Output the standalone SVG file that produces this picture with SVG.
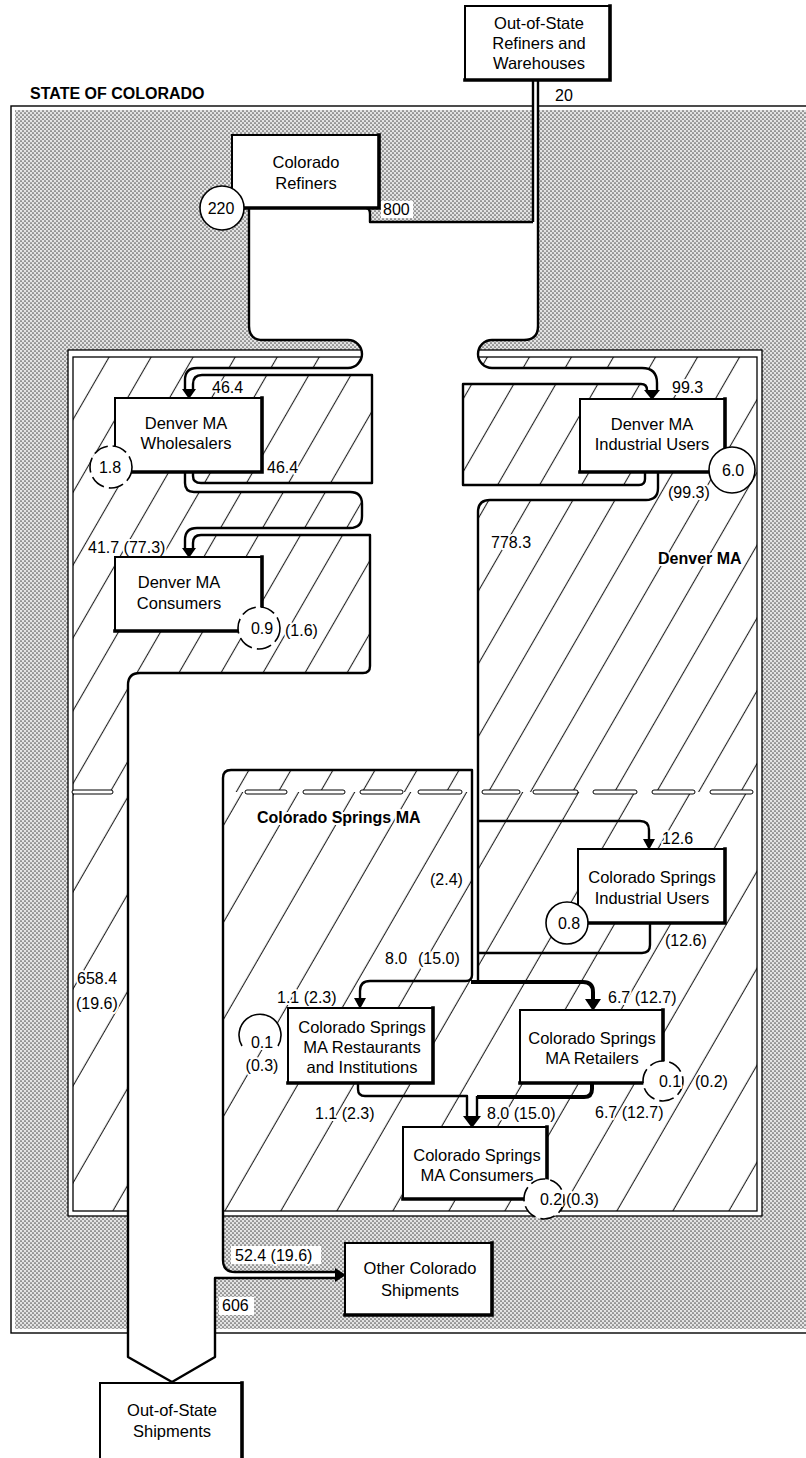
<svg xmlns="http://www.w3.org/2000/svg" width="806" height="1458" viewBox="0 0 806 1458">
<defs>
<pattern id="dots" width="4" height="4" patternUnits="userSpaceOnUse"><rect width="4" height="4" fill="#e4e4e4"/><circle cx="1" cy="1" r="0.85" fill="#555"/><circle cx="3" cy="3" r="0.85" fill="#555"/></pattern>
<pattern id="hatchD" width="36.4" height="20" patternUnits="userSpaceOnUse" patternTransform="rotate(30)"><rect width="36.4" height="20" fill="#fff"/><line x1="18.2" y1="-1" x2="18.2" y2="21" stroke="#222" stroke-width="1.1"/></pattern>
<pattern id="hatchC" width="48.5" height="20" patternUnits="userSpaceOnUse" patternTransform="rotate(30)"><rect width="48.5" height="20" fill="#fff"/><line x1="24.2" y1="-1" x2="24.2" y2="21" stroke="#222" stroke-width="1.1"/></pattern>
<style>
.rv{fill:none;stroke:#000;stroke-width:2.4;stroke-linejoin:round}
.thk{fill:none;stroke:#000;stroke-width:4;stroke-linejoin:round}
.box{fill:#fff;stroke:#000;stroke-width:2}
.sh{fill:none;stroke:#000;stroke-width:3.6;stroke-linecap:square}
.t{font-family:'Liberation Sans',Arial,Helvetica,sans-serif;font-size:16.5px;fill:#000;text-anchor:middle}
.n{font-family:'Liberation Sans',Arial,Helvetica,sans-serif;font-size:16px;fill:#000;paint-order:stroke;stroke:#fff;stroke-width:4px;stroke-linejoin:round}
.b{font-weight:bold}
.loss{fill:#fff;stroke:#000;stroke-width:1.6}
.dsh{stroke-dasharray:15 5}
.dash{fill:#fff;stroke:#000;stroke-width:1}
.ah{fill:#000}
</style>
</defs>
<rect width="806" height="1458" fill="#fff"/>

<g id="state-of-colorado">
<rect x="11" y="106" width="810" height="1227" fill="#fff" stroke="#000" stroke-width="1.4"/>
<rect x="15" y="110" width="800" height="1219" fill="url(#dots)"/>
<text class="n b" x="30" y="99" font-size="16.5">STATE OF COLORADO</text>
</g>

<g id="metro-areas">
<rect x="68" y="350" width="694" height="866" fill="#fff" stroke="#000" stroke-width="1.3"/>
<rect x="73" y="357" width="684" height="435" fill="url(#hatchD)"/>
<rect x="73" y="792" width="684" height="419" fill="url(#hatchC)"/>
<rect x="73" y="357" width="684" height="854" fill="none" stroke="#000" stroke-width="1.3"/>
<g id="ma-divider">
<rect class="dash" x="72" y="790" width="41" height="4" rx="2"/>
<rect class="dash" x="245" y="790" width="42" height="4" rx="2"/>
<rect class="dash" x="303" y="790" width="42" height="4" rx="2"/>
<rect class="dash" x="360" y="790" width="43" height="4" rx="2"/>
<rect class="dash" x="418" y="790" width="44" height="4" rx="2"/>
<rect class="dash" x="482" y="790" width="38" height="4" rx="2"/>
<rect class="dash" x="533" y="790" width="45" height="4" rx="2"/>
<rect class="dash" x="593" y="790" width="44" height="4" rx="2"/>
<rect class="dash" x="652" y="790" width="43" height="4" rx="2"/>
<rect class="dash" x="710" y="790" width="43" height="4" rx="2"/>
</g>
</g>

<g id="flow-fill" fill="#fff">
<path d="M 249 208 L 366 208 Q 370 208 370 214 L 370 222 L 533 222 L 533 80 L 538 80 L 538 326 Q 538 340 524 340 L 492 340 A 14 14 0 0 0 492 368 L 642 368 Q 657 368 657 383 L 657 392 L 647 392 L 647 390 Q 647 384 641 384 L 463 384 L 463 485 L 639 485 Q 645 485 645 479 L 645 472 L 658 472 L 658 488 Q 658 500 646 500 L 490 500 Q 478 500 478 512 L 478 770 L 231 770 Q 223 770 223 778 L 223 1260 Q 223 1272 235 1272 L 337 1272 L 337 1278 L 215 1278 L 215 1357 L 172 1382 L 128 1357 L 128 685 Q 128 673 140 673 L 363 673 Q 370 673 370 666 L 370 535 L 201 535 Q 193 535 193 543 L 193 550 L 185 550 L 185 540 Q 185 528 197 528 L 350 528 Q 362 528 362 516 L 362 504 Q 362 492 350 492 L 194 492 Q 185 492 185 483 L 185 472 L 193 472 L 193 476 Q 193 483 201 483 L 372 483 L 372 375 L 202 375 Q 193 375 193 384 L 193 392 L 185 392 L 185 380 Q 185 368 197 368 L 348 368 A 14 14 0 0 0 348 340 L 263 340 Q 249 340 249 326 Z"/>
<rect x="472" y="768" width="6" height="214"/>
<rect x="467" y="1096" width="10" height="22"/>
</g>

<g id="connectors">
<path class="rv" d="M 533 80 L 533 222"/>
<path class="rv" d="M 366 208 Q 370 208 370 214 L 370 222 L 533 222"/>
<path class="rv" d="M 249 209 L 249 326 Q 249 340 263 340 L 348 340 A 14 14 0 0 1 348 368 L 197 368 Q 185 368 185 380 L 185 391"/>
<path class="rv" d="M 193 391 L 193 384 Q 193 375 202 375 L 372 375 L 372 483 L 201 483 Q 193 483 193 476 L 193 472"/>
<path class="rv" d="M 185 472 L 185 483 Q 185 492 194 492 L 350 492 Q 362 492 362 504 L 362 516 Q 362 528 350 528 L 197 528 Q 185 528 185 540 L 185 549"/>
<path class="rv" d="M 193 549 L 193 543 Q 193 535 201 535 L 370 535 L 370 666 Q 370 673 363 673 L 140 673 Q 128 673 128 685 L 128 1357 L 172 1382"/>
<path class="rv" d="M 538 80 L 538 326 Q 538 340 524 340 L 492 340 A 14 14 0 0 0 492 368 L 642 368 Q 657 368 657 383 L 657 391"/>
<path class="rv" d="M 647 391 L 647 390 Q 647 384 641 384 L 463 384 L 463 485 L 639 485 Q 645 485 645 479 L 645 472"/>
<path class="rv" d="M 658 472 L 658 488 Q 658 500 646 500 L 490 500 Q 478 500 478 512 L 478 980"/>
<path class="rv" d="M 337 1272 L 235 1272 Q 223 1272 223 1260 L 223 778 Q 223 770 231 770 L 472 770 L 472 975 Q 472 981 466 981 L 370 981 Q 360 981 360 991 L 360 999"/>
<path class="rv" d="M 337 1278 L 215 1278 L 215 1357 L 172 1382"/>
<path class="rv" d="M 478 821 L 640 821 Q 649 821 649 830 L 649 840"/>
<path class="rv" d="M 650 923 L 650 945 Q 650 953 642 953 L 478 953"/>
<path class="thk" d="M 471 982 L 583 982 Q 593 982 593 992 L 593 1000"/>
<path class="rv" d="M 358 1083 L 358 1089 Q 358 1096 365 1096 L 467 1096 L 467 1117"/>
<path class="thk" d="M 592 1083 L 592 1089 Q 592 1097 584 1097 L 477 1097"/>
<path class="rv" d="M 477 1096 L 477 1117"/>
<polygon class="ah" points="182,389 196,389 189,399"/>
<polygon class="ah" points="182,548 196,548 189,558"/>
<polygon class="ah" points="644,390 660,390 652,400"/>
<polygon class="ah" points="643,839 655,839 649,850"/>
<polygon class="ah" points="354,998 366,998 360,1009"/>
<polygon class="ah" points="585,999 601,999 593,1011"/>
<polygon class="ah" points="463,1116 481,1116 472,1128"/>
<polygon class="ah" points="335,1268 335,1282 346,1275"/>
</g>

<g id="flow-labels">
<text class="n" x="555" y="101">20</text>
<rect x="381" y="201" width="32" height="17" fill="#fff"/>
<text class="n" x="383" y="215">800</text>
<text class="n" x="212" y="393">46.4</text>
<text class="n" x="267" y="473">46.4</text>
<text class="n" x="672" y="393">99.3</text>
<text class="n" x="668" y="498">(99.3)</text>
<text class="n" x="491" y="548">778.3</text>
<text class="n b" x="658" y="564">Denver MA</text>
<text class="n" x="88" y="553">41.7 (77.3)</text>
<text class="n" x="285" y="636">(1.6)</text>
<text class="n b" x="257" y="823" font-size="15">Colorado Springs MA</text>
<text class="n" x="662" y="844">12.6</text>
<text class="n" x="430" y="885">(2.4)</text>
<text class="n" x="665" y="946">(12.6)</text>
<text class="n" x="385" y="964">8.0</text>
<text class="n" x="418" y="964">(15.0)</text>
<text class="n" x="77" y="984">658.4</text>
<text class="n" x="76" y="1009">(19.6)</text>
<text class="n" x="277" y="1003">1.1 (2.3)</text>
<text class="n" x="608" y="1003">6.7 (12.7)</text>
<text class="n" x="695" y="1087">(0.2)</text>
<text class="n" x="315" y="1119">1.1 (2.3)</text>
<text class="n" x="487" y="1119">8.0 (15.0)</text>
<text class="n" x="595" y="1118">6.7 (12.7)</text>
<text class="n" x="566" y="1205">(0.3)</text>
<rect x="231" y="1246" width="90" height="18" fill="#fff"/>
<text class="n" x="235" y="1261">52.4 (19.6)</text>
<rect x="219" y="1297" width="35" height="18" fill="#fff"/>
<text class="n" x="222" y="1311">606</text>
</g>

<g id="out-of-state-refiners">
<rect class="box" x="465" y="6" width="145" height="74"/>
<polyline class="sh" points="610,6 610,80 465,80"/>
<text class="t" x="539" y="29">Out-of-State</text>
<text class="t" x="539" y="49">Refiners and</text>
<text class="t" x="539" y="69">Warehouses</text>
</g>
<g id="colorado-refiners">
<rect class="box" x="232" y="135" width="147" height="73"/>
<polyline class="sh" points="379,135 379,208 232,208"/>
<text class="t" x="306" y="168">Colorado</text>
<text class="t" x="306" y="189">Refiners</text>
</g>
<g id="denver-wholesalers">
<rect class="box" x="115" y="398" width="147" height="74"/>
<polyline class="sh" points="262,398 262,472 115,472"/>
<text class="t" x="186" y="429">Denver MA</text>
<text class="t" x="186" y="449">Wholesalers</text>
</g>
<g id="denver-consumers">
<rect class="box" x="115" y="557" width="147" height="74"/>
<polyline class="sh" points="262,557 262,631 115,631"/>
<text class="t" x="179" y="588">Denver MA</text>
<text class="t" x="179" y="609">Consumers</text>
</g>
<g id="denver-industrial">
<rect class="box" x="580" y="399" width="145" height="73"/>
<polyline class="sh" points="725,399 725,472 580,472"/>
<text class="t" x="652" y="430">Denver MA</text>
<text class="t" x="652" y="450">Industrial Users</text>
</g>
<g id="cs-industrial">
<rect class="box" x="578" y="849" width="147" height="74"/>
<polyline class="sh" points="725,849 725,923 578,923"/>
<text class="t" x="652" y="883">Colorado Springs</text>
<text class="t" x="652" y="904">Industrial Users</text>
</g>
<g id="cs-restaurants">
<rect class="box" x="288" y="1008" width="145" height="75"/>
<polyline class="sh" points="433,1008 433,1083 288,1083"/>
<text class="t" x="362" y="1033">Colorado Springs</text>
<text class="t" x="362" y="1053">MA Restaurants</text>
<text class="t" x="362" y="1073">and Institutions</text>
</g>
<g id="cs-retailers">
<rect class="box" x="520" y="1010" width="143" height="73"/>
<polyline class="sh" points="663,1010 663,1083 520,1083"/>
<text class="t" x="592" y="1044">Colorado Springs</text>
<text class="t" x="592" y="1064">MA Retailers</text>
</g>
<g id="cs-consumers">
<rect class="box" x="403" y="1127" width="144" height="72"/>
<polyline class="sh" points="547,1127 547,1199 403,1199"/>
<text class="t" x="477" y="1161">Colorado Springs</text>
<text class="t" x="477" y="1181">MA Consumers</text>
</g>
<g id="other-colorado-shipments">
<rect class="box" x="345" y="1243" width="147" height="72"/>
<polyline class="sh" points="492,1243 492,1315 345,1315"/>
<text class="t" x="420" y="1274">Other Colorado</text>
<text class="t" x="420" y="1296">Shipments</text>
</g>
<g id="out-of-state-shipments">
<rect class="box" x="100" y="1383" width="142" height="85"/>
<polyline class="sh" points="242,1383 242,1468"/>
<text class="t" x="172" y="1416">Out-of-State</text>
<text class="t" x="172" y="1437">Shipments</text>
</g>

<g id="losses">
<g id="loss-220"><circle class="loss" cx="222" cy="208" r="22"/><text class="n" x="221" y="214" text-anchor="middle">220</text></g>
<g id="loss-1-8"><circle class="loss dsh" cx="111" cy="467" r="21"/><text class="n" x="110" y="473" text-anchor="middle">1.8</text></g>
<g id="loss-0-9"><circle class="loss dsh" cx="259" cy="628" r="21"/><text class="n" x="262" y="634" text-anchor="middle">0.9</text></g>
<g id="loss-6-0"><circle class="loss" cx="732" cy="470" r="23"/><text class="n" x="733" y="476" text-anchor="middle">6.0</text></g>
<g id="loss-0-8"><circle class="loss" cx="567" cy="923" r="21"/><text class="n" x="569" y="929" text-anchor="middle">0.8</text></g>
<g id="loss-0-1-rest"><path class="loss" d="M 242 1046 A 21 21 0 1 1 278 1046"/><text class="n" x="262" y="1048" text-anchor="middle">0.1</text><text class="n" x="262" y="1071" text-anchor="middle">(0.3)</text></g>
<g id="loss-0-1-ret"><circle class="loss dsh" cx="663" cy="1081" r="20"/><text class="n" x="670" y="1087" text-anchor="middle">0.1</text></g>
<g id="loss-0-2"><circle class="loss dsh" cx="544" cy="1199" r="20"/><text class="n" x="551" y="1205" text-anchor="middle">0.2</text></g>
</g>
</svg>
